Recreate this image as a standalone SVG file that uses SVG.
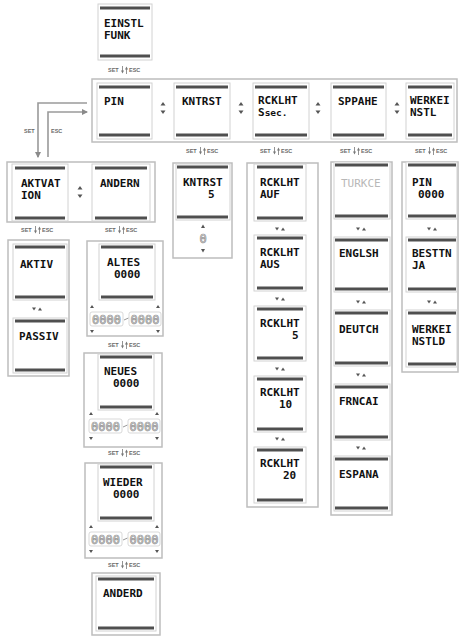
<svg xmlns="http://www.w3.org/2000/svg" xmlns:xlink="http://www.w3.org/1999/xlink" width="460" height="636" viewBox="0 0 460 636">
<style>
text{font-family:"DejaVu Sans Mono","Liberation Mono",monospace;font-weight:bold;font-size:11px;fill:#111}
.sm{font-family:"Liberation Sans",Arial,sans-serif;font-size:5.5px;fill:#6a6a6a}
.fade{fill:#b8b8b8;font-weight:normal}
.ol{font-size:12px;font-weight:normal;fill:#fff;stroke:#8a8a8a;stroke-width:0.7}
.bar{stroke:#4f4f4f;stroke-width:3}
.frame{fill:#fff;stroke:#d2d2d2;stroke-width:1}
.grp{fill:#fff;stroke:#bdbdbd;stroke-width:1.5}
.tri{fill:#555}
.lt{fill:none;stroke:#cfcfcf;stroke-width:0.8}
.con{fill:none;stroke:#9a9a9a;stroke-width:1.6}
</style>
<defs>
<marker id="ah" viewBox="0 0 6 6" refX="5" refY="3" markerWidth="4" markerHeight="4" orient="auto"><path d="M0,0 L6,3 L0,6 z" fill="#8a8a8a"/></marker>
<g id="se">
<text class="sm" x="-17" y="2">SET</text>
<path d="M-2.5,-4 V1" stroke="#777" stroke-width="0.8"/>
<polygon points="-4,0.5 -1,0.5 -2.5,3.5" fill="#777"/>
<path d="M1.5,4 V-1" stroke="#777" stroke-width="0.8"/>
<polygon points="0,-0.5 3,-0.5 1.5,-3.5" fill="#777"/>
<text class="sm" x="4" y="2">ESC</text>
</g>
<g id="ud">
<polygon class="tri" points="-5,-1.5 -1,-1.5 -3,1.5"/>
<polygon class="tri" points="1,1.5 5,1.5 3,-1.5"/>
</g>
<g id="lr">
<polygon class="tri" points="-2.5,-2.5 2.5,-2.5 0,-6"/>
<polygon class="tri" points="-2.5,2.5 2.5,2.5 0,6"/>
</g>
<g id="dg">
<rect class="lt" x="-35" y="-7" width="33" height="14" rx="2"/>
<text class="ol" x="-18.5" y="4.5" text-anchor="middle">0000</text>
<path d="M-1,1 L3.5,-1" stroke="#999" stroke-width="1"/>
<rect class="lt" x="4" y="-7" width="32" height="14" rx="2"/>
<text class="ol" x="20" y="4.5" text-anchor="middle">0000</text>
<polygon class="tri" points="-35,-11 -31,-11 -33,-14"/>
<polygon class="tri" points="31,-11 35,-11 33,-14"/>
<polygon class="tri" points="-35,11 -31,11 -33,14"/>
<polygon class="tri" points="31,11 35,11 33,14"/>
</g>
</defs>
<rect width="460" height="636" fill="#fff"/>

<!-- containers -->
<g id="grp-main"><rect class="grp" x="92" y="79" width="365" height="63"/></g>
<g id="grp-aktvat"><rect class="grp" x="7" y="162" width="148" height="60"/></g>
<g id="grp-aktiv"><rect class="grp" x="8" y="240" width="61" height="136"/></g>
<g id="grp-kntrst5"><rect class="grp" x="173" y="163" width="59" height="95"/></g>
<g id="grp-rcklht"><rect class="grp" x="247" y="163" width="71" height="344"/></g>
<g id="grp-sprache"><rect class="grp" x="331" y="162" width="61" height="353"/></g>
<g id="grp-werkei"><rect class="grp" x="402" y="162" width="56" height="210"/></g>

<!-- connectors -->
<g id="connectors">
<use xlink:href="#se" x="125" y="70"/>
<path class="con" d="M87,103 H38 V157" marker-end="url(#ah)"/>
<path class="con" d="M48,157 V112 H87" marker-end="url(#ah)"/>
<text class="sm" x="24" y="133">SET</text>
<text class="sm" x="51" y="133">ESC</text>
<use xlink:href="#lr" x="163" y="108"/>
<use xlink:href="#lr" x="241" y="108"/>
<use xlink:href="#lr" x="318" y="108"/>
<use xlink:href="#lr" x="397" y="108"/>
<use xlink:href="#lr" x="80" y="192"/>
<use xlink:href="#se" x="203" y="151"/>
<use xlink:href="#se" x="277" y="151"/>
<use xlink:href="#se" x="357" y="151"/>
<use xlink:href="#se" x="432" y="151"/>
<use xlink:href="#se" x="38" y="230"/>
<use xlink:href="#se" x="122" y="230"/>
<use xlink:href="#se" x="125" y="345"/>
<use xlink:href="#se" x="125" y="453"/>
<use xlink:href="#se" x="125" y="565"/>
<use xlink:href="#ud" x="37" y="309"/>
<use xlink:href="#ud" x="280" y="229"/>
<use xlink:href="#ud" x="280" y="299"/>
<use xlink:href="#ud" x="280" y="369"/>
<use xlink:href="#ud" x="280" y="439"/>
<use xlink:href="#ud" x="361" y="229"/>
<use xlink:href="#ud" x="361" y="302"/>
<use xlink:href="#ud" x="361" y="375"/>
<use xlink:href="#ud" x="361" y="448"/>
<use xlink:href="#ud" x="432" y="229"/>
<use xlink:href="#ud" x="432" y="302"/>
</g>

<!-- top -->
<g id="n-einstl">
<rect class="frame" x="98" y="4" width="54" height="56"/>
<line class="bar" x1="100" y1="8" x2="150" y2="8"/><line class="bar" x1="100" y1="56" x2="150" y2="56"/>
<text x="104" y="27">EINSTL</text><text x="104" y="39">FUNK</text>
</g>

<g id="n-pin">
<rect class="frame" x="97" y="83" width="55" height="56"/>
<line class="bar" x1="99" y1="87" x2="150" y2="87"/><line class="bar" x1="99" y1="135" x2="150" y2="135"/>
<text x="104" y="105">PIN</text>
</g>
<g id="n-kntrst">
<rect class="frame" x="174" y="83" width="56" height="56"/>
<line class="bar" x1="176" y1="87" x2="228" y2="87"/><line class="bar" x1="176" y1="135" x2="228" y2="135"/>
<text x="182" y="105">KNTRST</text>
</g>
<g id="n-rcklht">
<rect class="frame" x="253" y="83" width="56" height="56"/>
<line class="bar" x1="255" y1="87" x2="307" y2="87"/><line class="bar" x1="255" y1="135" x2="307" y2="135"/>
<text x="258" y="104">RCKLHT</text><text x="258" y="116">S<tspan font-size="9.5">sec.</tspan></text>
</g>
<g id="n-sppahe">
<rect class="frame" x="331" y="83" width="55" height="56"/>
<line class="bar" x1="333" y1="87" x2="384" y2="87"/><line class="bar" x1="333" y1="135" x2="384" y2="135"/>
<text x="338" y="105">SPPAHE</text>
</g>
<g id="n-werkei">
<rect class="frame" x="406" y="83" width="48" height="56"/>
<line class="bar" x1="408" y1="87" x2="452" y2="87"/><line class="bar" x1="408" y1="135" x2="452" y2="135"/>
<text x="410" y="104">WERKEI</text><text x="410" y="116">NSTL</text>
</g>

<!-- left second level -->
<g id="n-aktvat">
<rect class="frame" x="12" y="164" width="56" height="57"/>
<line class="bar" x1="15" y1="168" x2="65" y2="168"/><line class="bar" x1="15" y1="218" x2="65" y2="218"/>
<text x="21" y="187">AKTVAT</text><text x="21" y="199">ION</text>
</g>
<g id="n-andern">
<rect class="frame" x="92" y="164" width="58" height="57"/>
<line class="bar" x1="95" y1="168" x2="147" y2="168"/><line class="bar" x1="95" y1="218" x2="147" y2="218"/>
<text x="100" y="187">ANDERN</text>
</g>

<!-- aktiv / passiv -->
<g id="n-aktiv">
<rect class="frame" x="13" y="244" width="54" height="56"/>
<line class="bar" x1="15" y1="247" x2="65" y2="247"/><line class="bar" x1="15" y1="297" x2="65" y2="297"/>
<text x="20" y="268">AKTIV</text>
</g>
<g id="n-passiv">
<rect class="frame" x="13" y="318" width="54" height="55"/>
<line class="bar" x1="15" y1="321" x2="65" y2="321"/><line class="bar" x1="15" y1="370" x2="65" y2="370"/>
<text x="19" y="340">PASSIV</text>
</g>

<!-- pin change -->
<g id="n-altes">
<rect class="grp" x="87" y="241" width="76" height="95"/>
<rect class="frame" x="99" y="244" width="56" height="56"/>
<line class="bar" x1="101" y1="247" x2="153" y2="247"/><line class="bar" x1="101" y1="297" x2="153" y2="297"/>
<text x="107" y="266">ALTES</text><text x="114" y="278">0000</text>
<use xlink:href="#dg" x="125" y="319"/>
</g>
<g id="n-neues">
<rect class="grp" x="84" y="353" width="78" height="94"/>
<rect class="frame" x="98" y="354" width="56" height="56"/>
<line class="bar" x1="100" y1="357" x2="152" y2="357"/><line class="bar" x1="100" y1="407" x2="152" y2="407"/>
<text x="104" y="375">NEUES</text><text x="113" y="387">0000</text>
<use xlink:href="#dg" x="124" y="426"/>
</g>
<g id="n-wieder">
<rect class="grp" x="85" y="463" width="77" height="95"/>
<rect class="frame" x="98" y="464" width="56" height="57"/>
<line class="bar" x1="100" y1="467" x2="152" y2="467"/><line class="bar" x1="100" y1="518" x2="152" y2="518"/>
<text x="103" y="486">WIEDER</text><text x="113" y="498">0000</text>
<use xlink:href="#dg" x="124" y="539"/>
</g>
<g id="n-anderd">
<rect class="grp" x="92" y="573" width="68" height="62"/>
<rect class="frame" x="96" y="576" width="60" height="55"/>
<line class="bar" x1="98" y1="579" x2="154" y2="579"/><line class="bar" x1="98" y1="628" x2="154" y2="628"/>
<text x="103" y="597">ANDERD</text>
</g>

<!-- kontrast -->
<g id="n-kntrst5">
<rect class="frame" x="176" y="164" width="54" height="56"/>
<line class="bar" x1="177" y1="167" x2="228" y2="167"/><line class="bar" x1="177" y1="217" x2="228" y2="217"/>
<text x="183" y="186">KNTRST</text><text x="208" y="198">5</text>
<polygon class="tri" points="201,228 205,228 203,224.5"/>
<text class="ol" x="203" y="243" text-anchor="middle" font-size="14">0</text>
<polygon class="tri" points="201,249 205,249 203,252.5"/>
</g>

<!-- backlight -->
<g id="n-rck-auf">
<rect class="frame" x="254" y="164" width="52" height="57"/>
<line class="bar" x1="257" y1="167" x2="303" y2="167"/><line class="bar" x1="257" y1="218" x2="303" y2="218"/>
<text x="260" y="186">RCKLHT</text><text x="260" y="198">AUF</text>
</g>
<g id="n-rck-aus">
<rect class="frame" x="254" y="235" width="52" height="56"/>
<line class="bar" x1="257" y1="238" x2="303" y2="238"/><line class="bar" x1="257" y1="288" x2="303" y2="288"/>
<text x="260" y="256">RCKLHT</text><text x="260" y="268">AUS</text>
</g>
<g id="n-rck-5">
<rect class="frame" x="254" y="306" width="52" height="55"/>
<line class="bar" x1="257" y1="309" x2="303" y2="309"/><line class="bar" x1="257" y1="358" x2="303" y2="358"/>
<text x="260" y="327">RCKLHT</text><text x="292" y="339">5</text>
</g>
<g id="n-rck-10">
<rect class="frame" x="254" y="376" width="52" height="56"/>
<line class="bar" x1="257" y1="379" x2="303" y2="379"/><line class="bar" x1="257" y1="429" x2="303" y2="429"/>
<text x="260" y="396">RCKLHT</text><text x="279" y="408">10</text>
</g>
<g id="n-rck-20">
<rect class="frame" x="254" y="447" width="52" height="56"/>
<line class="bar" x1="257" y1="450" x2="303" y2="450"/><line class="bar" x1="257" y1="500" x2="303" y2="500"/>
<text x="260" y="467">RCKLHT</text><text x="283" y="479">20</text>
</g>

<!-- language -->
<g id="n-turkce">
<rect class="frame" x="334" y="162" width="56" height="57"/>
<line class="bar" x1="335" y1="165" x2="388" y2="165"/><line class="bar" x1="335" y1="216" x2="388" y2="216"/>
<text class="fade" x="341" y="187">TURKCE</text>
</g>
<g id="n-englsh">
<rect class="frame" x="334" y="237" width="56" height="55"/>
<line class="bar" x1="335" y1="240" x2="388" y2="240"/><line class="bar" x1="335" y1="289" x2="388" y2="289"/>
<text x="339" y="257">ENGLSH</text>
</g>
<g id="n-deutch">
<rect class="frame" x="334" y="310" width="56" height="56"/>
<line class="bar" x1="335" y1="313" x2="388" y2="313"/><line class="bar" x1="335" y1="363" x2="388" y2="363"/>
<text x="339" y="333">DEUTCH</text>
</g>
<g id="n-frncai">
<rect class="frame" x="334" y="384" width="56" height="56"/>
<line class="bar" x1="335" y1="387" x2="388" y2="387"/><line class="bar" x1="335" y1="437" x2="388" y2="437"/>
<text x="339" y="405">FRNCAI</text>
</g>
<g id="n-espana">
<rect class="frame" x="334" y="456" width="56" height="55"/>
<line class="bar" x1="335" y1="459" x2="388" y2="459"/><line class="bar" x1="335" y1="508" x2="388" y2="508"/>
<text x="339" y="478">ESPANA</text>
</g>

<!-- factory settings -->
<g id="n-pin0000">
<rect class="frame" x="406" y="162" width="51" height="57"/>
<line class="bar" x1="408" y1="165" x2="456" y2="165"/><line class="bar" x1="408" y1="216" x2="456" y2="216"/>
<text x="412" y="186">PIN</text><text x="418" y="198">0000</text>
</g>
<g id="n-besttn">
<rect class="frame" x="406" y="237" width="51" height="55"/>
<line class="bar" x1="408" y1="240" x2="456" y2="240"/><line class="bar" x1="408" y1="289" x2="456" y2="289"/>
<text x="412" y="257">BESTTN</text><text x="412" y="269">JA</text>
</g>
<g id="n-werkeinstld">
<rect class="frame" x="406" y="310" width="51" height="57"/>
<line class="bar" x1="408" y1="313" x2="456" y2="313"/><line class="bar" x1="408" y1="364" x2="456" y2="364"/>
<text x="412" y="333">WERKEI</text><text x="412" y="345">NSTLD</text>
</g>
</svg>
